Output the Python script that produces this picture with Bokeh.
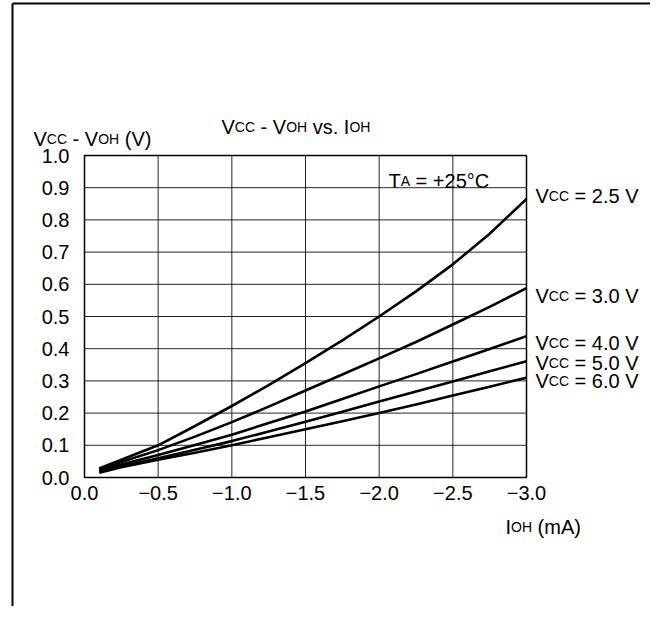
from bokeh.plotting import figure
from bokeh.models import Range1d, FixedTicker, Label
from bokeh.embed import file_html
from bokeh.resources import INLINE

# ---- data ----
ioh = [-0.1, -0.25, -0.5, -0.75, -1.0, -1.25, -1.5, -1.75, -2.0, -2.25, -2.5, -2.75, -3.0]
v25 = [0.028, 0.055, 0.100, 0.160, 0.222, 0.287, 0.355, 0.426, 0.500, 0.578, 0.662, 0.757, 0.865]
v30 = [0.025, 0.048, 0.085, 0.127, 0.172, 0.220, 0.270, 0.320, 0.370, 0.421, 0.475, 0.530, 0.588]
v40 = [0.021, 0.040, 0.070, 0.101, 0.133, 0.169, 0.205, 0.244, 0.283, 0.321, 0.360, 0.399, 0.439]
v50 = [0.018, 0.035, 0.060, 0.086, 0.113, 0.143, 0.173, 0.204, 0.236, 0.267, 0.298, 0.330, 0.361]
v60 = [0.015, 0.032, 0.055, 0.077, 0.100, 0.125, 0.150, 0.175, 0.200, 0.227, 0.255, 0.282, 0.310]
series = [("2.5", v25), ("3.0", v30), ("4.0", v40), ("5.0", v50), ("6.0", v60)]

x_ticks = [0.0, -0.5, -1.0, -1.5, -2.0, -2.5, -3.0]
x_tick_labels = ["0.0", "\u22120.5", "\u22121.0", "\u22121.5", "\u22122.0", "\u22122.5", "\u22123.0"]
y_ticks = [0.0, 0.1, 0.2, 0.3, 0.4, 0.5, 0.6, 0.7, 0.8, 0.9, 1.0]
y_tick_labels = ["0.0", "0.1", "0.2", "0.3", "0.4", "0.5", "0.6", "0.7", "0.8", "0.9", "1.0"]

# ---- layout (pixel geometry of the plot box) ----
W, H = 650, 606
BL, BR, BT, BB = 84, 526, 155, 477   # plot-box edges in px
XS = (BR - BL) / 3.0                  # px per mA
YS = (BB - BT) / 1.0                  # px per V
FONT = "Liberation Sans"
BIG, SMALL = 20, 14


def px_to_x(px):
    return -(px - BL) / XS


def py_to_y(py):
    return (BB - py) / YS


p = figure(width=W, height=H, output_backend="svg", toolbar_location=None,
           x_range=Range1d(px_to_x(0), px_to_x(W)),
           y_range=Range1d(py_to_y(H), py_to_y(0)),
           min_border=0)
p.background_fill_color = "white"
p.border_fill_color = "white"
p.outline_line_color = None
p.grid.visible = False

xa, ya = p.xaxis[0], p.yaxis[0]
for ax in (xa, ya):
    ax.major_tick_line_color = None
    ax.minor_tick_line_color = None
    ax.axis_line_color = None
    ax.major_label_text_font = FONT
    ax.major_label_text_font_size = f"{BIG}px"
    ax.major_label_text_color = "black"
    ax.fixed_location = 0
xa.ticker = FixedTicker(ticks=x_ticks)
xa.major_label_overrides = {t: l for t, l in zip(x_ticks, x_tick_labels)}
xa.major_label_standoff = 2
xa.bounds = (-3.0, 0.0)
ya.ticker = FixedTicker(ticks=y_ticks)
ya.major_label_overrides = {t: l for t, l in zip(y_ticks, y_tick_labels)}
ya.major_label_standoff = 9
ya.bounds = (0.0, 1.0)

# grid lines at the tick positions, limited to the plot box
p.segment(x0=x_ticks, y0=[0.0] * len(x_ticks), x1=x_ticks, y1=[1.0] * len(x_ticks),
          line_color="black", line_width=1, line_alpha=0.85)
p.segment(x0=[0.0] * len(y_ticks), y0=y_ticks, x1=[-3.0] * len(y_ticks), y1=y_ticks,
          line_color="black", line_width=1, line_alpha=0.85)
# plot-box outline
p.quad(left=[0.0], right=[-3.0], bottom=[0.0], top=[1.0], fill_color=None,
       line_color="black", line_width=1.5)

for name, vals in series:
    p.line(ioh, vals, line_color="black", line_width=2.6, line_join="round")

# ---- mixed-size text helper (Arial/Liberation advance widths, per 1000 em) ----
WIDTHS = {" ": 278, "-": 333, "(": 333, ")": 333, ".": 278, "=": 584, "+": 584,
          "\u00b0": 400, "V": 667, "C": 722, "O": 778, "H": 722, "I": 278,
          "T": 611, "A": 667, "v": 500, "s": 500, "m": 833}


def tw(t, size):
    return sum(WIDTHS.get(c, 556) for c in t) * size / 1000.0


def mixed(segs, px, py, gap=0.0):
    """Place text pieces of different sizes on one baseline, word by word."""
    cur = px
    for t, size in segs:
        words = t.split(" ")
        for i, wd in enumerate(words):
            if i > 0:
                cur += tw(" ", size) + gap
            if wd:
                p.add_layout(Label(x=px_to_x(cur), y=py_to_y(py), text=wd, text_font=FONT,
                                   text_font_size=f"{size}px", text_color="black",
                                   text_baseline="alphabetic", text_align="left"))
                cur += tw(wd, size)


mixed([("V", BIG), ("CC", SMALL), (" - V", BIG), ("OH", SMALL), (" vs. I", BIG), ("OH", SMALL)], 221, 126)
mixed([("V", BIG), ("CC", SMALL), (" - V", BIG), ("OH", SMALL), (" (V)", BIG)], 33, 138)
mixed([("I", BIG), ("OH", SMALL), (" (mA)", BIG)], 505, 526)
mixed([("T", BIG), ("A", SMALL), (" = +25\u00b0C", BIG)], 388, 180)

label_baselines = [195, 295, 342, 362, 380]
for (name, vals), bl in zip(series, label_baselines):
    mixed([("V", BIG), ("CC", SMALL), (f" = {name} V", BIG)], 535, bl)

# ---- outer border (top / left edges of the page frame) ----
p.segment(x0=[px_to_x(12), px_to_x(12)], y0=[py_to_y(H), py_to_y(3)],
          x1=[px_to_x(12), px_to_x(W)], y1=[py_to_y(3), py_to_y(3)],
          line_color="black", line_width=2)

open("out.html", "w").write(file_html(p, INLINE))
